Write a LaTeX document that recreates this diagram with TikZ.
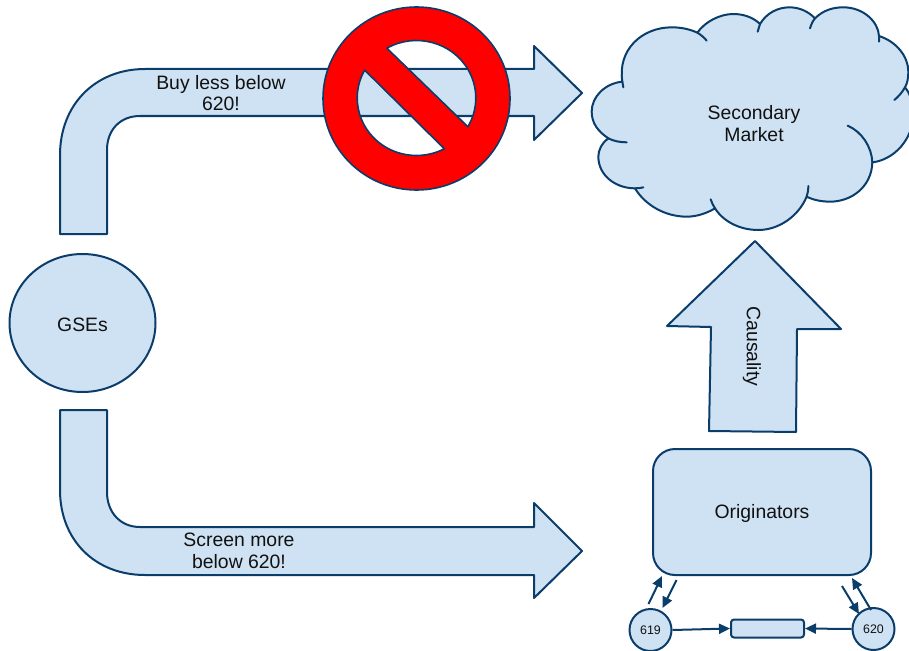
\documentclass[tikz,border=0pt]{standalone}
\usepackage{fontspec}
\setmainfont{Liberation Sans}
\usetikzlibrary{arrows.meta,shapes.geometric}
\definecolor{shapefill}{HTML}{CFE2F3}
\definecolor{shapeline}{HTML}{0B3D6B}
\definecolor{inktext}{HTML}{111111}
\tikzset{
  shapestyle/.style={draw=shapeline,fill=shapefill,line width=2pt,line join=round},
  biglabel/.style={font=\fontsize{19.4}{21.5}\selectfont,text=inktext,align=center,inner sep=0pt},
  smalllabel/.style={font=\fontsize{12.4}{14}\selectfont,text=inktext},
  smallcircle/.style={shapestyle,circle,minimum size=42pt,inner sep=0pt},
  linkarrow/.style={draw=shapeline,line width=2pt,-{Triangle[length=11pt,width=10pt]}},
}
\begin{document}
\begin{tikzpicture}[x=1pt,y=-1pt]
\useasboundingbox (0,0) rectangle (909,650);
\clip (0,0) rectangle (909,650);
% top bent arrow
\draw[shapestyle] (60,234) -- (60,155) .. controls (60,105) and (95,69) .. (145,69)
  -- (534,69) -- (534,46) -- (582,93) -- (534,140) -- (534,116) -- (140,116)
  .. controls (120,116) and (107,130) .. (107,150) -- (107,234) -- cycle;
\node[biglabel] (buy) at (221,93) {Buy less below\\620!};
% prohibition sign
\fill[red,even odd rule] (416.5,98.5) circle[x radius=93.5pt,y radius=91.5pt]
  (416.5,98) ++(120:59.3pt and 57.5pt) arc[start angle=120,end angle=-30,x radius=59.3pt,y radius=57.5pt] -- cycle
  (416.5,98) ++(151:59.3pt and 57.5pt) arc[start angle=151,end angle=298,x radius=59.3pt,y radius=57.5pt] -- cycle;
\draw[shapeline,line width=1.6pt,line join=round] (416.5,98.5) circle[x radius=93.5pt,y radius=91.5pt]
  (416.5,98) ++(120:59.3pt and 57.5pt) arc[start angle=120,end angle=-30,x radius=59.3pt,y radius=57.5pt] -- cycle
  (416.5,98) ++(151:59.3pt and 57.5pt) arc[start angle=151,end angle=298,x radius=59.3pt,y radius=57.5pt] -- cycle;
% bottom bent arrow
\draw[shapestyle] (60,410) -- (60,490) .. controls (60,540) and (95,575) .. (145,575)
  -- (534,575) -- (534,598) -- (582,551) -- (534,503) -- (534,527) -- (140,527)
  .. controls (120,527) and (107,512) .. (107,492) -- (107,410) -- cycle;
\node[biglabel] (screen) at (239,551) {Screen more\\below 620!};
% GSEs
\node[shapestyle,ellipse,minimum width=146pt,minimum height=138pt,inner sep=0pt,biglabel,text height=17pt,text depth=0pt] (gses) at (82.5,323) {GSEs};
% cloud
\begin{scope}[shift={(580pt,0pt)},x=0.33333pt,y=-0.33333pt]
\path[shapestyle] (127,245) .. controls (112,150) and (185,82) .. (275,82)
 .. controls (305,82) and (330,88) .. (352,98)
 .. controls (375,65) and (420,42) .. (460,42)
 .. controls (490,42) and (520,52) .. (540,72)
 .. controls (560,38) and (595,22) .. (628,22)
 .. controls (660,22) and (685,35) .. (705,55)
 .. controls (730,30) and (760,22) .. (790,22)
 .. controls (850,22) and (895,65) .. (897,108)
 .. controls (950,125) and (985,170) .. (985,215)
 .. controls (985,235) and (982,250) .. (975,262)
 .. controls (990,280) and (1000,310) .. (1000,340)
 .. controls (1000,420) and (940,480) .. (877,487)
 .. controls (875,560) and (815,605) .. (750,605)
 .. controls (725,605) and (700,600) .. (680,590)
 .. controls (655,650) and (595,690) .. (535,690)
 .. controls (480,690) and (430,665) .. (405,625)
 .. controls (380,640) and (350,650) .. (320,650)
 .. controls (255,650) and (195,615) .. (165,565)
 .. controls (105,565) and (55,525) .. (55,470)
 .. controls (55,450) and (65,430) .. (85,415)
 .. controls (55,395) and (35,370) .. (35,335)
 .. controls (35,290) and (75,250) .. (127,245) -- cycle;
\draw[draw=shapeline,line width=2pt,line cap=round]
 (127,245) -- (130,262)
 (352,98) .. controls (362,104) and (372,112) .. (380,122)
 (540,72) -- (533,95)
 (705,55) .. controls (699,62) and (694,72) .. (690,85)
 (897,108) -- (897,125)
 (975,262) .. controls (966,278) and (955,290) .. (943,300)
 (877,487) .. controls (875,440) and (845,395) .. (803,377)
 (680,590) .. controls (683,580) and (685,570) .. (685,558)
 (405,625) .. controls (400,617) and (395,608) .. (392,598)
 (165,565) .. controls (175,565) and (182,564) .. (190,562)
 (85,415) .. controls (100,423) and (120,427) .. (140,427);
\end{scope}
\node[biglabel] (secondary) at (754,123.5) {Secondary\\Market};
% causality arrow
\draw[shapestyle] (755,241) -- (841,329) -- (797,329) -- (796,432) -- (709,431) -- (711,327) -- (667,326) -- cycle;
\node[biglabel,rotate=-90] (causality) at (752,346.5) {Causality};
% originators
\node[shapestyle,rounded corners=22pt,minimum width=218pt,minimum height=126pt,inner sep=0pt,biglabel,text height=13.6pt,text depth=0pt] (orig) at (762,512) {Originators};
% small nodes
\node[smallcircle,smalllabel] (n619) at (650.5,630) {619};
\node[smallcircle,smalllabel] (n620) at (873.5,629) {620};
\node[shapestyle,rounded corners=3pt,minimum width=73pt,minimum height=18pt,inner sep=0pt] (bar) at (767.5,628.5) {};
\draw[linkarrow] (n619.east) -- (bar.west);
\draw[linkarrow] (n620.west) -- (bar.east);
\coordinate (a1s) at (648.5,604);
\coordinate (a1e) at (662,576);
\coordinate (a2s) at (676.5,580);
\coordinate (a2e) at (662.5,608);
\coordinate (a3s) at (842,586);
\coordinate (a3e) at (859,614);
\coordinate (a4s) at (871,610);
\coordinate (a4e) at (852,578);
\draw[linkarrow] (a1s) -- (a1e);
\draw[linkarrow] (a2s) -- (a2e);
\draw[linkarrow] (a3s) -- (a3e);
\draw[linkarrow] (a4s) -- (a4e);
\end{tikzpicture}
\end{document}
